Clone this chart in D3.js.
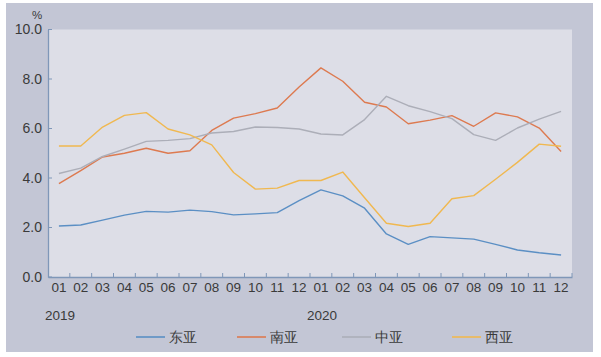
<!DOCTYPE html>
<html><head><meta charset="utf-8">
<script src="https://cdn.jsdelivr.net/npm/d3@7/dist/d3.min.js"></script>
<style>
body{margin:0;background:#fff;}
text{font-family:"Liberation Sans","DejaVu Sans",sans-serif;fill:#3a3a3a;}
</style></head>
<body><svg id="c" width="601" height="357"></svg>
<script>
const months = ["01","02","03","04","05","06","07","08","09","10","11","12","01","02","03","04","05","06","07","08","09","10","11","12"];
const years = ["2019","2020"];
const yTicks = [0,2,4,6,8,10];
const seriesNames = ["东亚","南亚","中亚","西亚"];
const seriesColors = ["#5b8fc4","#dd7a50","#acaeb8","#f0b850"];
const eastAsia = [2.06,2.1,2.3,2.5,2.65,2.62,2.7,2.64,2.51,2.55,2.6,3.09,3.52,3.28,2.78,1.74,1.32,1.63,1.58,1.53,1.32,1.09,0.98,0.89];
const southAsia = [3.77,4.3,4.85,5.0,5.2,5.0,5.1,5.92,6.42,6.6,6.83,7.68,8.45,7.91,7.06,6.87,6.19,6.34,6.52,6.09,6.63,6.47,6.02,5.07];
const centralAsia = [4.18,4.4,4.87,5.17,5.48,5.52,5.59,5.82,5.88,6.06,6.04,5.98,5.78,5.74,6.36,7.3,6.92,6.68,6.4,5.75,5.52,6.02,6.38,6.69];
const westAsia = [5.29,5.29,6.06,6.53,6.64,5.98,5.74,5.34,4.22,3.55,3.59,3.9,3.9,4.24,3.2,2.17,2.04,2.17,3.16,3.29,3.95,4.63,5.37,5.28];
const seriesData = [eastAsia, southAsia, centralAsia, westAsia];

const svg = d3.select("#c");
const L=48, R=572, T=29.5, B=277;
svg.append("rect").attr("x",6).attr("y",3).attr("width",587).attr("height",349).attr("fill","#c3c6d5");
svg.append("rect").attr("x",L).attr("y",T).attr("width",R-L).attr("height",B-T).attr("fill","#dddee7");

const idx = d3.range(months.length);
const x = d3.scaleBand().domain(idx).range([L,R]);
const y = d3.scaleLinear().domain([0,10]).range([B,T]);
const axisColor = "#7f97b8";

const xAxis = svg.append("g").attr("transform",`translate(0,${B})`)
  .call(d3.axisBottom(x).tickValues([]).tickSizeOuter(0));
xAxis.select(".domain").attr("stroke",axisColor).attr("stroke-width",1.3);
const bounds = d3.range(1, months.length+1).map(i => L + i*x.step());
svg.append("g").selectAll("line").data(bounds).join("line")
  .attr("x1",d=>d).attr("x2",d=>d).attr("y1",B).attr("y2",B-4)
  .attr("stroke",axisColor).attr("stroke-width",1);
svg.append("g").selectAll("text").data(idx).join("text")
  .attr("x",i=>x(i)+x.bandwidth()/2).attr("y",292)
  .attr("text-anchor","middle").attr("font-size",13.5).text(i=>months[i]);
svg.append("g").selectAll("text").data(years).join("text")
  .attr("x",(d,i)=>x(i*12)+x.bandwidth()/2+1).attr("y",320)
  .attr("text-anchor","middle").attr("font-size",13.5).text(d=>d);

const yAxis = svg.append("g").attr("transform",`translate(${L},0)`)
  .call(d3.axisLeft(y).tickValues(yTicks).tickSize(0).tickFormat(d3.format(".1f")).tickPadding(6));
yAxis.select(".domain").attr("stroke",axisColor).attr("stroke-width",1.3);
yAxis.selectAll("text").attr("font-size",14).attr("fill","#3a3a3a")
  .attr("font-family",'"Liberation Sans","DejaVu Sans",sans-serif');
svg.append("g").selectAll("line").data(yTicks).join("line")
  .attr("x1",L).attr("x2",L+4).attr("y1",d=>y(d)).attr("y2",d=>y(d))
  .attr("stroke",axisColor).attr("stroke-width",1);
svg.append("text").attr("x",37).attr("y",18.5).attr("text-anchor","middle").attr("font-size",11.5).text("%");

const line = d3.line().x((d,i)=>x(i)+x.bandwidth()/2).y(d=>y(d));
seriesData.forEach((s,k)=>{
  svg.append("path").datum(s).attr("d",line).attr("fill","none")
    .attr("stroke",seriesColors[k]).attr("stroke-width",1.4).attr("stroke-linejoin","round");
});

const legX = [136,237,342,452];
const leg = svg.append("g").selectAll("g").data(seriesNames).join("g")
  .attr("transform",(d,i)=>`translate(${legX[i]},337)`);
leg.append("line").attr("x1",0).attr("x2",29).attr("y1",0).attr("y2",0)
  .attr("stroke",(d,i)=>seriesColors[i]).attr("stroke-width",1.6);
leg.append("text").attr("x",33).attr("y",5).attr("font-size",13.5)
  .attr("font-family",'"Noto Sans CJK SC",sans-serif').text(d=>d);
</script></body></html>
